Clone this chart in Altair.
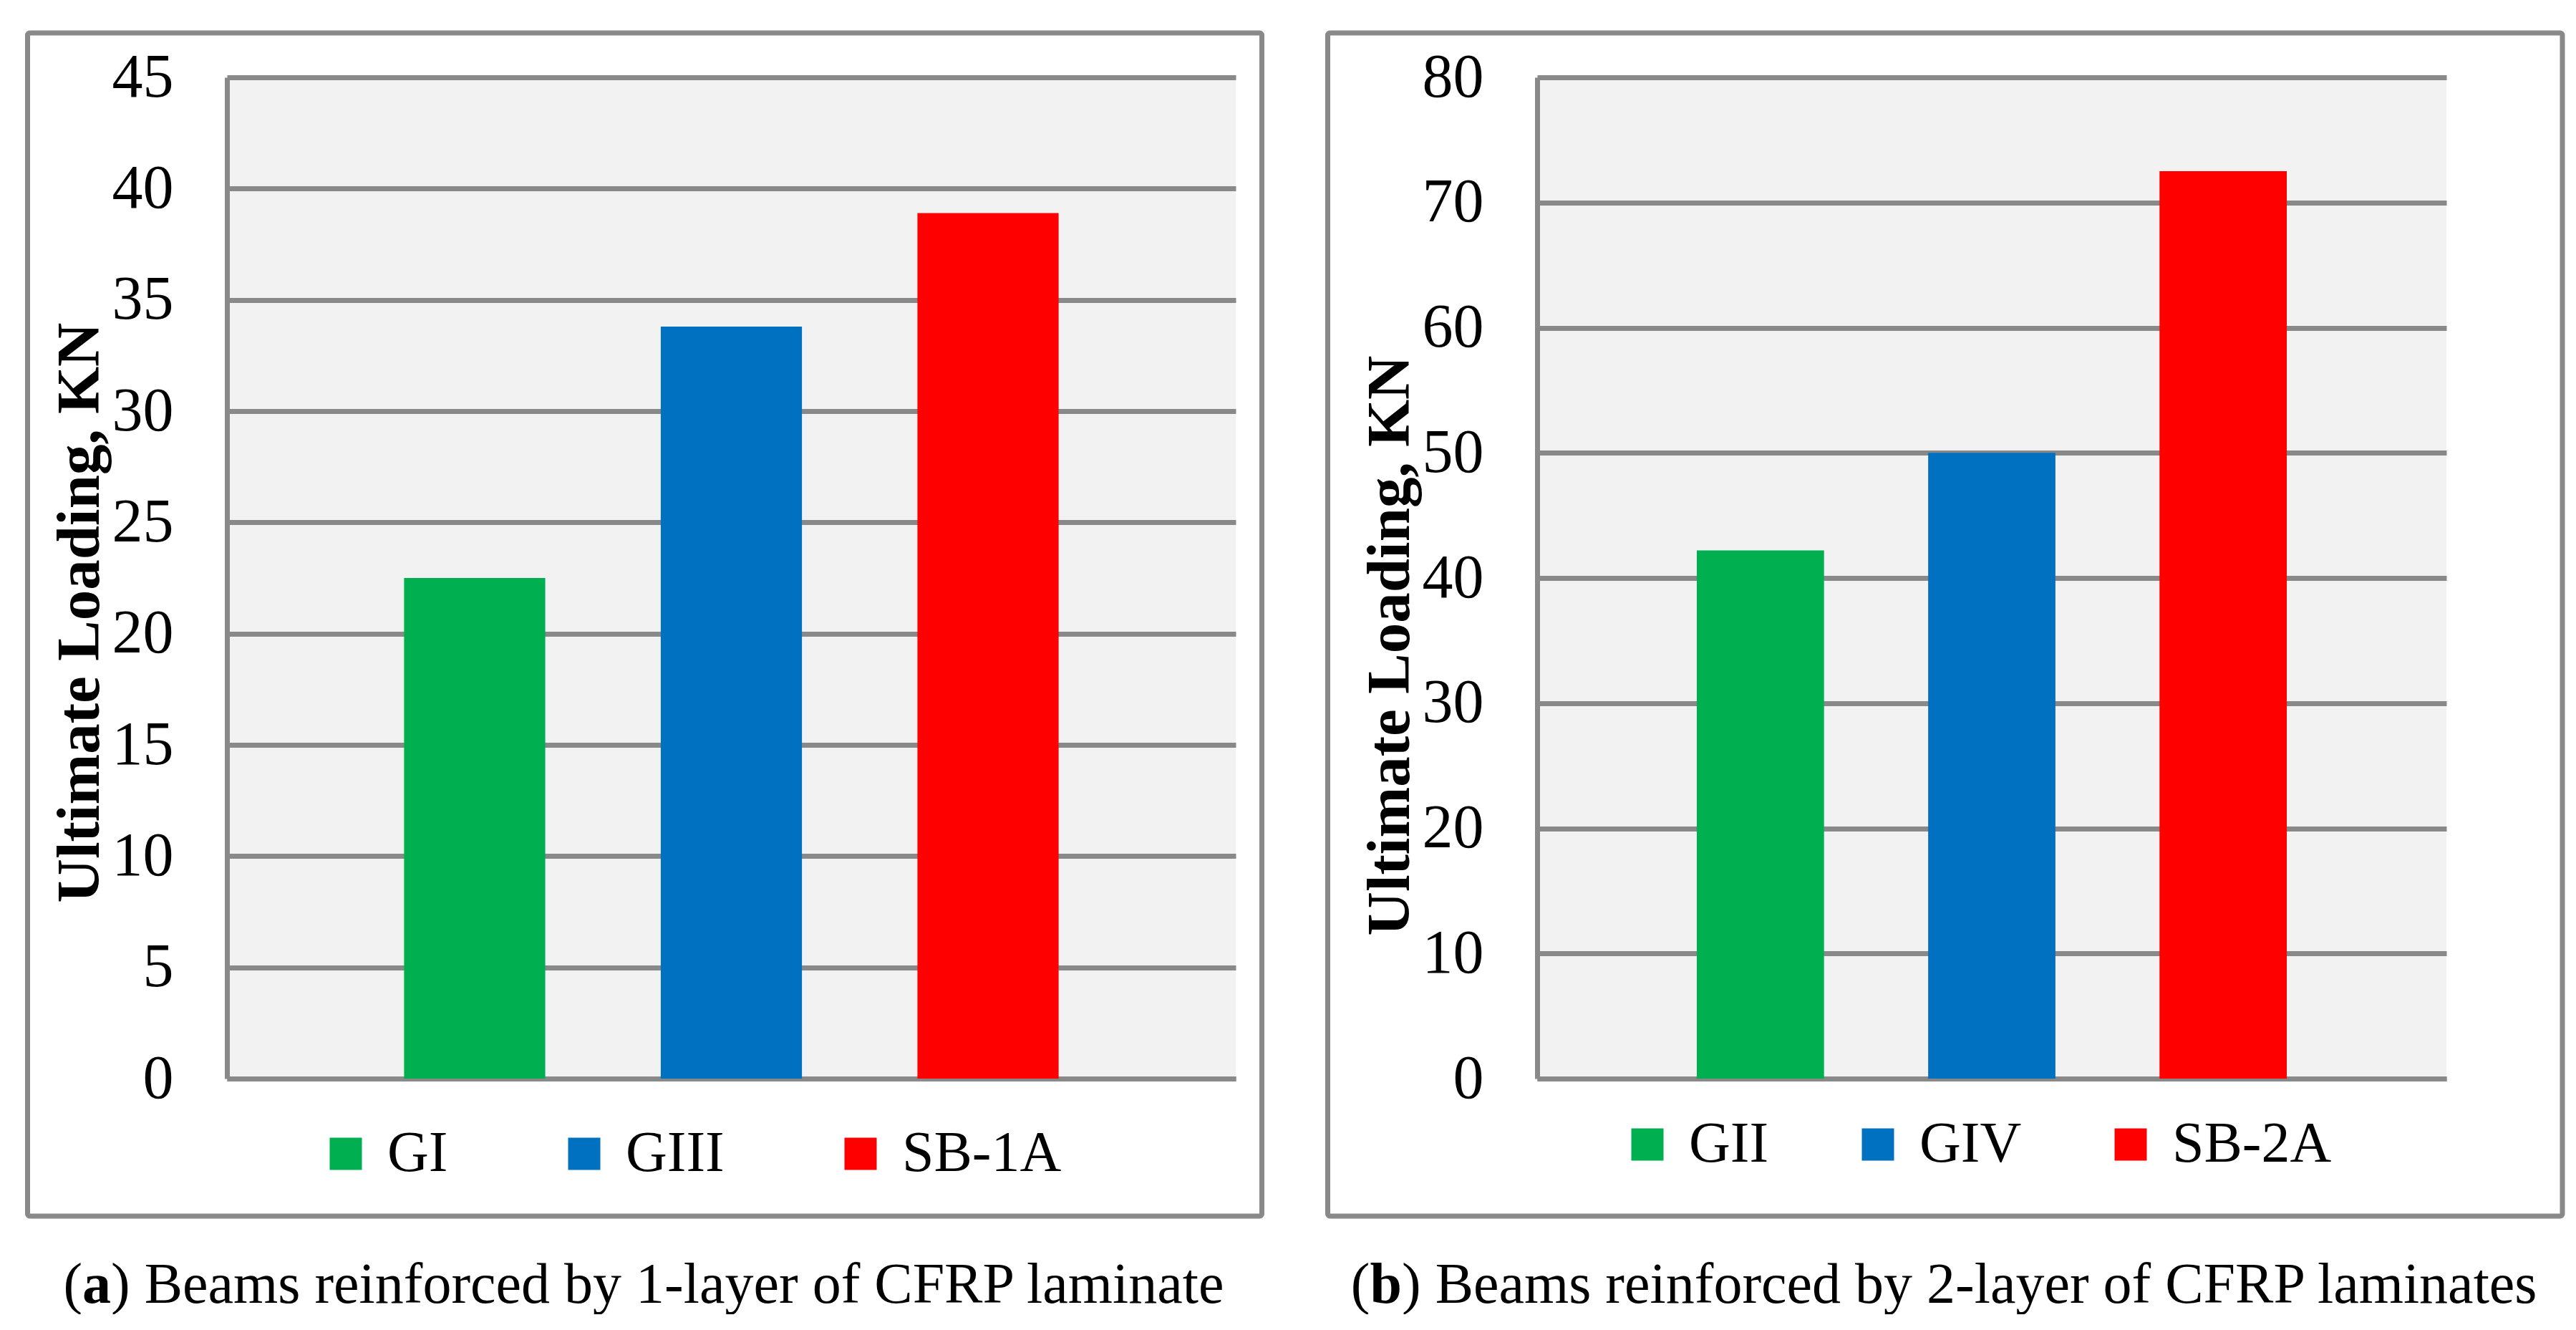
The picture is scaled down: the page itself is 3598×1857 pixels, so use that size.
import altair as alt
import pandas as pd

# ---- data ----
cats_a = ["GI", "GIII", "SB-1A"]
vals_a = [22.5, 33.8, 38.9]
cats_b = ["GII", "GIV", "SB-2A"]
vals_b = [42.2, 50.0, 72.5]
colors = ["#00B050", "#0070C0", "#FF0000"]
ticks_a = [0, 5, 10, 15, 20, 25, 30, 35, 40, 45]
ticks_b = [0, 10, 20, 30, 40, 50, 60, 70, 80]
y_title = "Ultimate Loading, KN"
cap_a = ["(", "a", ") Beams reinforced by 1-layer of CFRP laminate"]
cap_b = ["(", "b", ") Beams reinforced by 2-layer of CFRP laminates"]

GRID = "#898989"
SERIF = "Liberation Serif"
H = 1398
CAP_FS = 80


def text_layer(txt, x, y, bold=False, align="left"):
    return alt.Chart(pd.DataFrame({"t": [txt]})).mark_text(
        font=SERIF, fontSize=CAP_FS, align=align, baseline="alphabetic",
        color="black", fontWeight="bold" if bold else "normal"
    ).encode(x=alt.value(x), y=alt.value(y), text="t:N")


def panel(cats, vals, ymax, ticks, W, legend_x, legend_y, col_pad, title_y,
          border, cap, cap_center, bold_em, rest_em):
    df = pd.DataFrame({"cat": cats, "val": vals})
    bars = alt.Chart(df).mark_bar().encode(
        x=alt.X("cat:N", sort=cats,
                scale=alt.Scale(paddingInner=0.45, paddingOuter=0.69),
                axis=alt.Axis(title=None, labels=False, ticks=False, grid=False,
                              domainColor=GRID, domainWidth=7)),
        y=alt.Y("val:Q", scale=alt.Scale(domain=[0, ymax], nice=False),
                axis=alt.Axis(values=ticks, title=y_title, grid=True,
                              gridColor=GRID, gridWidth=7, gridOpacity=1,
                              domainColor=GRID, domainWidth=7,
                              ticks=False, tickSize=0, labelPadding=75,
                              labelFont=SERIF, labelFontSize=86, labelColor="black",
                              titleFont=SERIF, titleFontSize=85, titleFontWeight="bold",
                              titleColor="black", titleX=-180, titleY=title_y,
                              titleBaseline="alphabetic", titleAngle=270,
                              titleAlign="center")),
        color=alt.Color("cat:N", sort=cats,
                        scale=alt.Scale(domain=cats, range=colors),
                        legend=alt.Legend(orient="none", legendX=legend_x, legendY=legend_y,
                                          direction="horizontal", title=None,
                                          symbolType="square", symbolSize=2025,
                                          symbolStrokeWidth=0, labelFont=SERIF,
                                          labelFontSize=80, labelColor="black",
                                          labelOffset=18, columnPadding=col_pad,
                                          padding=0, labelLimit=500)),
    )
    frame = alt.Chart(pd.DataFrame({"k": [0]})).mark_rect(
        fill="transparent", stroke=GRID, strokeWidth=7, cornerRadius=3
    ).encode(x=alt.value(border[0]), x2=alt.value(border[1]),
             y=alt.value(border[2]), y2=alt.value(border[3]))
    total = (0.333 + bold_em + rest_em) * CAP_FS
    start = cap_center - total / 2
    cy = 1711
    t1 = text_layer(cap[0], start, cy)
    t2 = text_layer(cap[1], start + 0.333 * CAP_FS, cy, bold=True)
    t3 = text_layer(cap[2], start + (0.333 + bold_em) * CAP_FS, cy)
    return alt.layer(frame, bars, t1, t2, t3).properties(width=W, height=H)


left = panel(cats_a, vals_a, 45, ticks_a, 1409, 126, 1463, 150, 747,
             (-278.5, 1445.5, -62, 1590), cap_a, 583.5, 0.5, 19.469)
right = panel(cats_b, vals_b, 80, ticks_b, 1270, 114, 1450, 112, 793,
              (-292.5, 1432, -62, 1590), cap_b, 569.75, 0.556, 19.858)

chart = alt.hconcat(left, right, spacing=85).resolve_scale(
    color="independent", x="independent", y="independent"
).resolve_legend(color="independent").properties(
    padding={"left": 27, "top": 34, "right": 0, "bottom": 0}
).configure_view(fill="#F2F2F2", strokeWidth=0)

chart.save("out.html", embed_options={"renderer": "svg", "actions": False})
